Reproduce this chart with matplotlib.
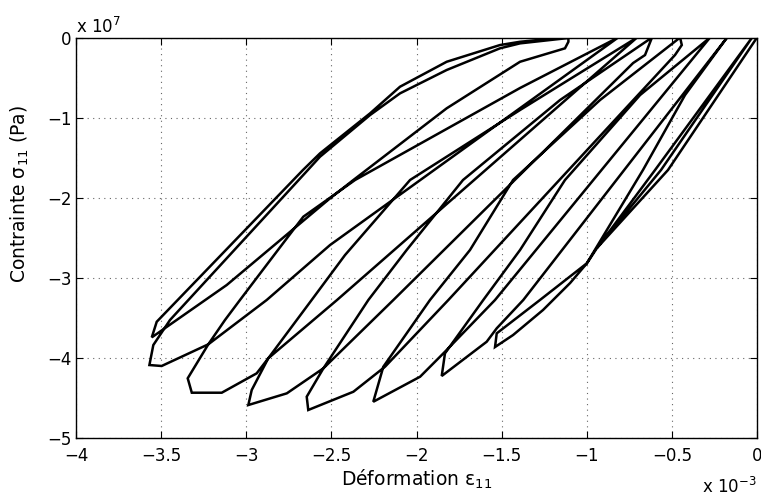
import matplotlib
matplotlib.use("Agg")
import matplotlib.pyplot as plt

plt.rcParams['font.family'] = ['DejaVu Sans']
plt.rcParams['mathtext.fontset'] = 'dejavusans'

# strain in 1e-3, stress in 1e7 Pa, read off the picture branch by branch
# (one continuous load path: loading to a tip, unloading to zero stress, reloading ...)
eps_load0 = [0, -0.523, -0.940]
sig_load0 = [0, -1.656, -2.631]
eps_unlS = [-0.940, -0.564, -0.029]
sig_unlS = [-2.631, -1.656, 0]
eps_relH = [-0.029, -0.599, -0.940, -0.998, -1.098, -1.257, -1.433, -1.539]
sig_relH = [0, -1.656, -2.631, -2.819, -3.069, -3.406, -3.719, -3.869]
eps_unlH = [-1.529, -1.275, -1.000, -0.670, -0.423, -0.176]
sig_unlH = [-3.698, -3.281, -2.823, -1.656, -0.719, 0]
eps_relG = [-0.176, -1.373, -1.529, -1.588, -1.852]
sig_relG = [0, -3.281, -3.635, -3.803, -4.231]
eps_unlG = [-1.833, -1.608, -1.392, -1.128, -0.687, -0.276]
sig_unlG = [-3.948, -3.281, -2.656, -1.781, -0.719, 0]
eps_relF = [-0.276, -1.539, -1.833, -1.979, -2.254]
sig_relF = [0, -3.281, -3.928, -4.240, -4.553]
eps_unlF = [-2.195, -1.921, -1.686, -1.433, -0.922, -0.452]
sig_unlF = [-4.115, -3.281, -2.656, -1.781, -0.781, 0]
eps_relE = [-0.452, -0.442, -0.482, -1.813, -2.185, -2.371, -2.636]
sig_relE = [0, -0.094, -0.219, -3.281, -4.115, -4.428, -4.656]
eps_unlE = [-2.645, -2.547, -2.283, -2.058, -1.727, -1.157, -0.617]
sig_unlE = [-4.49, -4.135, -3.281, -2.656, -1.781, -0.781, 0]
eps_relD = [-0.617, -0.658, -0.728, -2.136, -2.547, -2.762, -2.988]
sig_relD = [0, -0.219, -0.319, -3.281, -4.135, -4.448, -4.594]
eps_unlD = [-2.968, -2.871, -2.616, -2.420, -2.038, -1.392, -0.705]
sig_unlD = [-4.406, -4.01, -3.281, -2.719, -1.781, -0.906, 0]
eps_relC = [-0.705, -2.467, -2.871, -2.939, -3.144, -3.320]
sig_relC = [0, -3.281, -4.01, -4.198, -4.44, -4.44]
eps_unlC = [-3.344, -3.223, -3.125, -3.037, -2.814, -2.665, -2.361, -1.392, -0.816]
sig_unlC = [-4.26, -3.835, -3.531, -3.281, -2.656, -2.24, -1.781, -0.631, 0]
eps_relB = [-0.816, -2.508, -2.880, -3.223, -3.497, -3.569]
sig_relB = [0, -2.594, -3.281, -3.835, -4.106, -4.094]
eps_unlB = [-3.546, -3.448, -2.649, -2.567, -2.273, -2.097, -1.823, -1.510, -1.392, -1.108]
sig_unlB = [-3.844, -3.531, -1.681, -1.49, -0.969, -0.698, -0.406, -0.135, -0.073, -0.006]
eps_relA = [-1.108, -1.128, -1.392, -1.823, -2.371, -2.508, -3.115, -3.409, -3.555]
sig_relA = [-0.053, -0.135, -0.303, -0.885, -1.781, -2.01, -3.094, -3.531, -3.748]
eps_unlA = [-3.526, -2.667, -2.567, -2.273, -2.097, -1.823, -1.510, -1.392, -1.138]
sig_unlA = [-3.553, -1.656, -1.448, -0.948, -0.615, -0.303, -0.094, -0.053, 0]

branches_eps = [eps_load0, eps_unlS, eps_relH, eps_unlH, eps_relG, eps_unlG,
                eps_relF, eps_unlF, eps_relE, eps_unlE, eps_relD, eps_unlD,
                eps_relC, eps_unlC, eps_relB, eps_unlB, eps_relA, eps_unlA]
branches_sig = [sig_load0, sig_unlS, sig_relH, sig_unlH, sig_relG, sig_unlG,
                sig_relF, sig_unlF, sig_relE, sig_unlE, sig_relD, sig_unlD,
                sig_relC, sig_unlC, sig_relB, sig_unlB, sig_relA, sig_unlA]

strain = []
stress = []
for e, s in zip(branches_eps, branches_sig):
    strain += e
    stress += s

fig = plt.figure(figsize=(7.61, 4.97), dpi=100)
ax = fig.add_axes([0.0999, 0.1197, 0.8949, 0.8048])

ax.plot(strain, stress, color='black', lw=1.8, solid_joinstyle='miter')

ax.set_xlim(-4, 0)
ax.set_ylim(-5, 0)
ax.set_xticks([-4, -3.5, -3, -2.5, -2, -1.5, -1, -0.5, 0])
ax.set_xticklabels(['\u22124', '\u22123.5', '\u22123', '\u22122.5', '\u22122',
                    '\u22121.5', '\u22121', '\u22120.5', '0'])
ax.set_yticks([-5, -4, -3, -2, -1, 0])
ax.set_yticklabels(['\u22125', '\u22124', '\u22123', '\u22122', '\u22121', '0'])
ax.tick_params(axis='x', direction='in', length=5, labelsize=12, top=True, pad=7)
ax.tick_params(axis='y', direction='in', length=5, labelsize=12, right=True, pad=3)
ax.grid(True, color='0.4', linestyle=(0, (1, 4)), linewidth=0.8)
for sp in ax.spines.values():
    sp.set_linewidth(1.0)

ax.set_xlabel('D\u00e9formation \u03b5$_{\\mathregular{11}}$', fontsize=13.5)
ax.xaxis.set_label_coords(0.5, -0.076)
ax.set_ylabel('Contrainte \u03c3$_{\\mathregular{11}}$ (Pa)', fontsize=13.5)
ax.yaxis.set_label_coords(-0.066, 0.61)

fig.text(76 / 761, 1 - 33 / 497, 'x 10$^{\\mathregular{7}}$', fontsize=12,
         ha='left', va='baseline')
fig.text(702 / 761, 1 - 493 / 497, 'x 10$^{\\mathregular{\u22123}}$', fontsize=12,
         ha='left', va='baseline')

fig.savefig('out.png', dpi=100)
